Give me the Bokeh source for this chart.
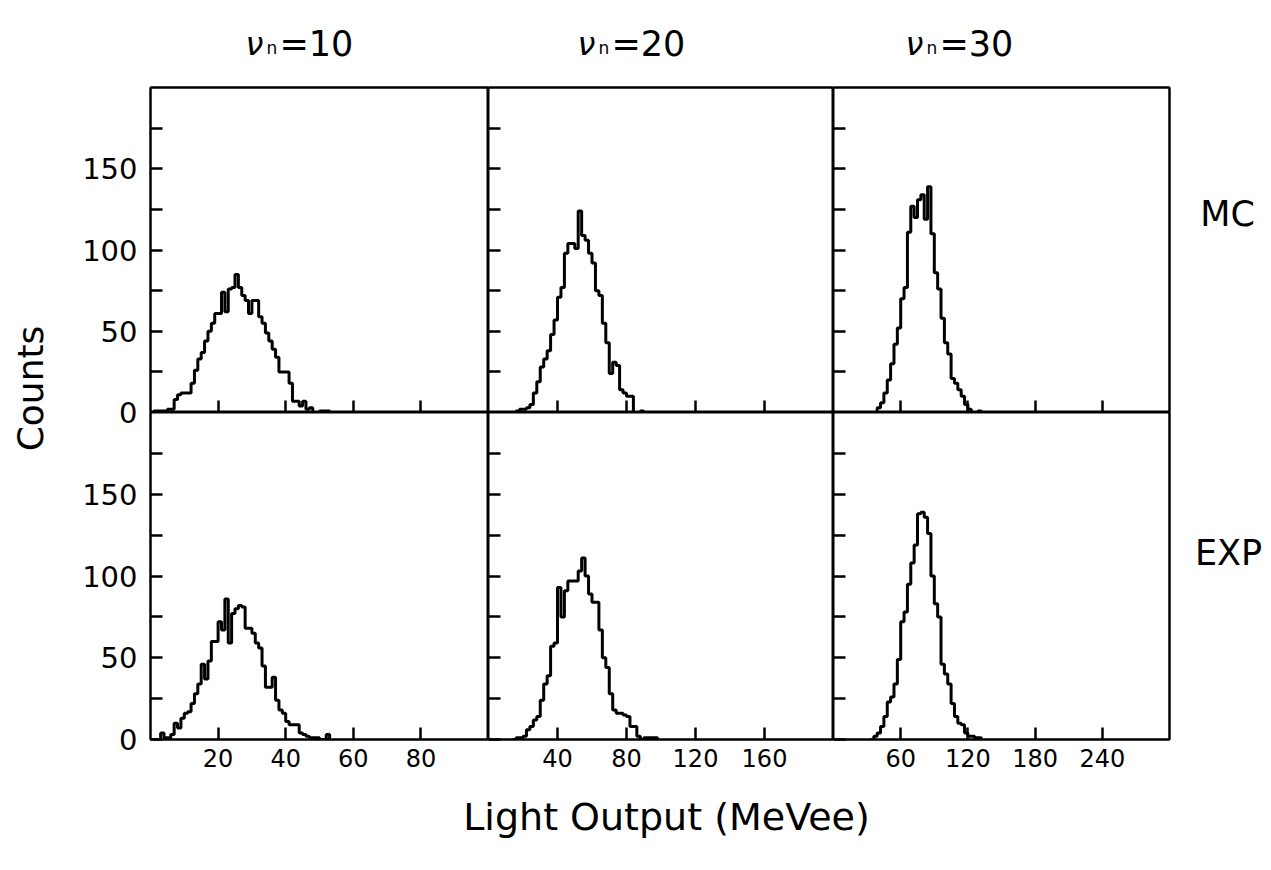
import numpy as np
from bokeh.plotting import figure
from bokeh.layouts import row, column
from bokeh.models import Range1d, FixedTicker, Label, LinearAxis
from bokeh.core.properties import value
from bokeh.embed import file_html
from bokeh.resources import INLINE

# ---------------- data ----------------
nu_values = ["10", "20", "30"]
x_max = [100, 200, 300]
bin_width = [1, 2, 3]
x_ticks = [[20, 40, 60, 80], [40, 80, 120, 160], [60, 120, 180, 240]]
y_major = [0, 50, 100, 150]
y_minor = [25, 75, 125, 175]
y_max = 200
row_labels = ["MC", "EXP"]

# Monte Carlo histograms (first bin left edge, counts per bin)
mc_start = [0, 14, 36]
mc_10 = [0, 1, 1, 1, 1, 2, 2, 8, 11, 12,
         12, 12, 18, 26, 33, 37, 44, 50, 55, 61,
         61, 74, 62, 76, 77, 85, 77, 72, 69, 61,
         69, 69, 59, 55, 49, 44, 39, 34, 25, 25,
         25, 18, 7, 7, 4, 7, 2, 3, 0, 0,
         1, 1, 1, 0]
mc_20 = [0, 1, 2, 2, 3, 5, 12, 19, 28, 33,
         38, 48, 57, 71, 77, 98, 104, 104, 101, 124,
         109, 106, 98, 92, 75, 72, 55, 43, 24, 31,
         29, 14, 12, 10, 10, 0, 0, 1, 0]
mc_30 = [0, 3, 6, 12, 20, 30, 42, 52, 70, 77,
         111, 127, 120, 131, 134, 119, 139, 110, 86, 76,
         58, 43, 36, 21, 18, 14, 10, 5, 2, 0,
         0, 1, 0]

# Experimental histograms
exp_start = [0, 14, 33]
exp_10 = [0, 0, 0, 4, 1, 1, 3, 10, 7, 13,
          16, 17, 22, 28, 34, 46, 37, 48, 60, 60,
          72, 67, 86, 59, 77, 80, 82, 81, 68, 68,
          65, 59, 56, 45, 32, 32, 38, 24, 18, 16,
          11, 9, 9, 9, 4, 3, 2, 1, 1, 1,
          0, 0, 3, 0]
exp_20 = [0, 1, 1, 2, 6, 8, 12, 14, 24, 34,
          39, 57, 59, 93, 75, 91, 97, 97, 97, 103,
          111, 100, 89, 84, 84, 67, 50, 44, 28, 18,
          16, 16, 15, 14, 8, 8, 2, 0, 1, 1,
          1, 1, 0]
exp_30 = [0, 2, 4, 8, 14, 23, 26, 34, 49, 72,
          78, 95, 108, 119, 138, 139, 136, 126, 100, 83,
          75, 46, 40, 34, 22, 14, 10, 9, 4, 2,
          2, 1, 1, 0]

hists = [[(mc_start[0], mc_10), (mc_start[1], mc_20), (mc_start[2], mc_30)],
         [(exp_start[0], exp_10), (exp_start[1], exp_20), (exp_start[2], exp_30)]]

# ---------------- layout / style ----------------
FONT = "DejaVu Sans"
W, H = 1271, 870
FW = [338, 345, 336]
FH = [325, 327]
PAD = 3                    # outer border so the outer frame lines are not clipped
FRAME_L, FRAME_T = 150, 87  # window position of the panel grid
BOTTOM_AX = 50             # room for x tick labels under bottom row
LEFT = FRAME_L - PAD
TOP = FRAME_T - PAD
GRID_W = sum(FW) + 2 * PAD
RIGHT = W - LEFT - GRID_W
XLAB_H = H - FRAME_T - sum(FH) - BOTTOM_AX
title_offsets = [95, 89, 72]
LW = 2
TICK_W = 2.5


def bare_axis(ax):
    ax.ticker = FixedTicker(ticks=[])
    ax.major_tick_in = 0
    ax.major_tick_out = 0
    ax.minor_tick_in = 0
    ax.minor_tick_out = 0
    ax.major_label_text_color = None
    ax.major_label_standoff = 0
    ax.major_label_text_font_size = "1px"
    ax.axis_line_color = "black"
    ax.axis_line_width = LW


def panel(r, c):
    p = figure(frame_width=FW[c], frame_height=FH[r],
               x_range=Range1d(0, x_max[c]), y_range=Range1d(0, y_max),
               output_backend="svg", toolbar_location=None, tools="",
               min_border_left=PAD if c == 0 else 0,
               min_border_right=PAD if c == 2 else 0,
               min_border_top=PAD if r == 0 else 0,
               min_border_bottom=BOTTOM_AX if r == 1 else 0)
    p.grid.visible = False
    p.outline_line_color = "black"
    p.outline_line_width = LW
    p.background_fill_color = "white"
    p.border_fill_color = "white"

    xa = p.xaxis[0]
    xa.ticker = FixedTicker(ticks=x_ticks[c])
    xa.major_tick_in = 12
    xa.major_tick_out = 0
    xa.minor_tick_in = 0
    xa.minor_tick_out = 0
    xa.major_tick_line_width = TICK_W
    if r == 1:
        xa.axis_line_color = "black"
        xa.axis_line_width = LW
        xa.major_label_text_font = FONT
        xa.major_label_text_font_size = "24px"
        xa.major_label_text_color = "black"
        xa.major_label_standoff = 9
    else:
        xa.axis_line_color = None
        xa.major_label_text_color = None
        xa.major_label_standoff = 0
        xa.major_label_text_font_size = "1px"

    ya = p.yaxis[0]
    ya.ticker = FixedTicker(ticks=y_major, minor_ticks=y_minor)
    ya.major_tick_in = 12
    ya.major_tick_out = 0
    ya.minor_tick_in = 12
    ya.minor_tick_out = 0
    ya.major_tick_line_width = TICK_W
    ya.minor_tick_line_width = TICK_W
    ya.minor_tick_line_color = "black"
    if c == 0:
        ya.axis_line_color = "black"
        ya.axis_line_width = LW
    else:
        ya.axis_line_color = None
    ya.major_label_text_color = None
    ya.major_label_standoff = 0
    ya.major_label_text_font_size = "1px"

    if r == 0:
        ax = LinearAxis()
        bare_axis(ax)
        p.add_layout(ax, "above")
    if c == 2:
        ax = LinearAxis()
        bare_axis(ax)
        p.add_layout(ax, "right")

    start, counts = hists[r][c]
    edges = start + bin_width[c] * np.arange(len(counts))
    p.step(x=edges, y=counts, mode="after", line_color="black", line_width=3)
    return p


def strip(x0, y0, w, h):
    """Blank canvas whose data coordinates are window pixels (y measured upward)."""
    f = figure(width=w, height=h,
               x_range=Range1d(x0, x0 + w), y_range=Range1d(H - (y0 + h), H - y0),
               output_backend="svg", toolbar_location=None, tools="",
               x_axis_location=None, y_axis_location=None, min_border=0)
    f.grid.visible = False
    f.outline_line_color = None
    f.background_fill_color = "white"
    f.border_fill_color = "white"
    return f


def lab(fig, x, y, text, size, align="center", baseline="middle", **kw):
    fig.add_layout(Label(x=x, y=H - y, text=text, text_font=FONT,
                         text_font_size=size, text_align=align,
                         text_baseline=baseline, text_color="black", **kw))


panels = [[panel(r, c) for c in range(3)] for r in range(2)]

# ---- left strip: "Counts" and y tick labels, placed through count scales ----
top_zero = FRAME_T + FH[0]
s0 = FH[0] / y_max
bot_zero = FRAME_T + FH[0] + FH[1]
s1 = FH[1] / y_max
left = figure(width=LEFT, height=H, x_range=Range1d(0, LEFT),
              y_range=Range1d(-(H - top_zero) / s0, top_zero / s0),
              output_backend="svg", toolbar_location=None, tools="",
              x_axis_location=None, y_axis_location=None, min_border=0)
left.grid.visible = False
left.outline_line_color = None
left.extra_y_ranges = {"exp": Range1d(-(H - bot_zero) / s1, bot_zero / s1)}
ylab = [str(v) for v in y_major]
for rng in ["default", "exp"]:
    left.text(x=[137] * len(y_major), y=y_major, text=ylab, y_range_name=rng,
              text_font=value(FONT), text_font_size=value("29px"),
              text_align=value("right"), text_baseline=value("middle"),
              text_color="black")
left.add_layout(Label(x=30, y=(top_zero - 388) / s0, text="Counts", angle=np.pi / 2,
                      text_font=FONT, text_font_size="36px",
                      text_align="center", text_baseline="middle",
                      text_color="black"))

# ---- top strip: panel titles ----
top = strip(LEFT, 0, GRID_W, TOP)
panel_left = [FRAME_L, FRAME_L + FW[0], FRAME_L + FW[0] + FW[1]]
for c in range(3):
    x0 = panel_left[c] + title_offsets[c]
    lab(top, x0, 43, "ν", "32px", align="left", baseline="alphabetic",
        text_font_style="italic")
    lab(top, x0 + 21, 47, "n", "17px", align="left", baseline="alphabetic")
    lab(top, x0 + 34, 43, "=" + nu_values[c], "35px", align="left",
        baseline="alphabetic")

# ---- right strip: row labels ----
right = strip(W - RIGHT, 0, RIGHT, H)
lab(right, 1227, 213, row_labels[0], "35px")
lab(right, 1228, 552, row_labels[1], "35px")

# ---- bottom strip: x axis title ----
bottom = strip(LEFT, H - XLAB_H, GRID_W, XLAB_H)
lab(bottom, 666, 816, "Light Output (MeVee)", "38px")

layout = row(left,
             column(top, row(*panels[0]), row(*panels[1]), bottom),
             right)

open("out.html", "w").write(file_html(layout, INLINE))
